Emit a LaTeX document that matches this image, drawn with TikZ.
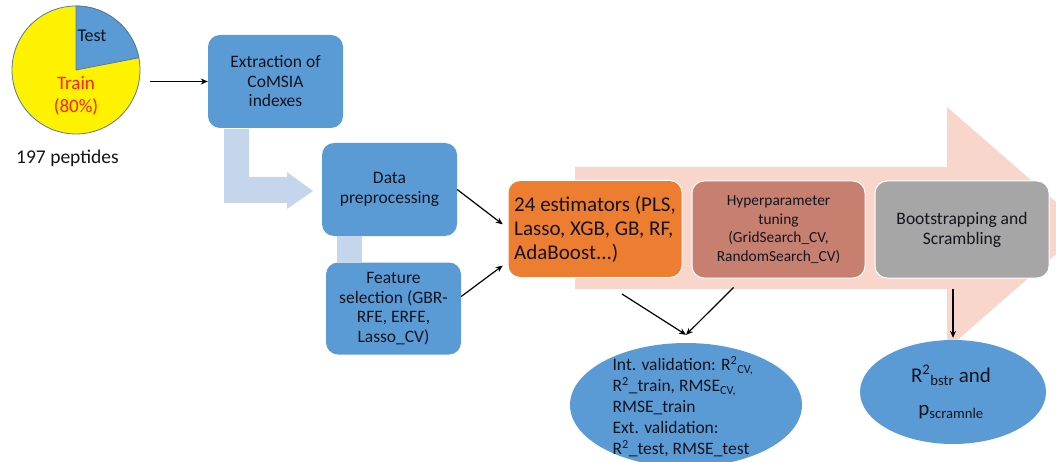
\documentclass[tikz,border=0pt]{standalone}
\usepackage{fontspec}
\setmainfont{Carlito}
\usetikzlibrary{arrows.meta,shapes.geometric}
\definecolor{boxblue}{RGB}{91,155,213}
\definecolor{lightblue}{RGB}{197,213,236}
\definecolor{bigpink}{RGB}{249,214,203}
\definecolor{estorange}{RGB}{237,125,49}
\definecolor{hyperbrown}{RGB}{199,128,112}
\definecolor{bootgray}{RGB}{166,166,166}
\definecolor{pieedge}{RGB}{84,122,160}
\definecolor{trainred}{RGB}{255,32,32}
\definecolor{textdark}{RGB}{20,20,30}
\begin{document}
\begin{tikzpicture}[x=1pt,y=-1pt,
  bluebox/.style={rectangle, rounded corners=12pt, fill=boxblue, minimum width=135pt, minimum height=93pt, align=center, inner sep=0pt, text=textdark, font=\fontsize{17.5}{19.5}\selectfont},
  procbox/.style={rectangle, rounded corners=12pt, draw=white, line width=1pt, minimum width=174pt, minimum height=97pt, align=center, inner sep=0pt, text=textdark},
  oval/.style={ellipse, fill=boxblue, inner sep=0pt},
  conn/.style={-{Stealth[length=7pt,width=6pt]}, line width=1.2pt},
  lbl/.style={inner sep=0pt, align=center}
]
\useasboundingbox (0,0) rectangle (1056,462);
\clip (0,0) rectangle (1056,462);

% big background arrow
\fill[bigpink] (575,167) -- (947,167) -- (947,107) -- (1086,228) -- (947,349) -- (947,289) -- (575,289) -- cycle;

% pie chart
\node[circle, fill=yellow, draw=pieedge, line width=0.8pt, minimum size=128pt, inner sep=0pt] (pie) at (76,70) {};
\filldraw[fill=boxblue, draw=pieedge, line width=0.8pt] (pie.center) -- ++(-11:64) arc[start angle=-11, end angle=-90, radius=64] -- cycle;
\node[lbl, text=textdark, font=\fontsize{18}{20}\selectfont] (test) at (92,36) {Test};
\node[lbl, text=trainred, font=\fontsize{19}{22.5}\selectfont] (train) at (76,96) {Train\\(80\%)};
\node[lbl, text=textdark, font=\fontsize{19.5}{22}\selectfont] (pep) at (67.5,158) {197 peptides};

% blue boxes
\node[bluebox] (extract) at (275.5,81.5) {Extraction of\\CoMSIA\\indexes};
\node[bluebox] (prep) at (389.5,189.5) {Data\\preprocessing};
\node[bluebox, minimum height=92pt] (feat) at (393.5,308.5) {Feature\\selection (GBR-\\RFE, ERFE,\\Lasso\_CV)};

% light blue block connectors
\fill[lightblue] (224,129) -- (249,129) -- (249,177) -- (287,177) -- (287,172) -- (313,191) -- (287,209) -- (287,203) -- (224,203) -- cycle;
\fill[lightblue] (337,236) rectangle (362,262);

% process boxes
\node[procbox, fill=estorange, align=left, font=\fontsize{21}{24}\selectfont] (orange) at (595,229) {24 estimators (PLS,\\Lasso, XGB, GB, RF,\\AdaBoost...)};
\node[procbox, fill=hyperbrown, minimum width=173pt, font=\fontsize{15.4}{18.5}\selectfont] (hyper) at (778.5,229.5) {Hyperparameter\\tuning\\(GridSearch\_CV,\\RandomSearch\_CV)};
\node[procbox, fill=bootgray, font=\fontsize{17.5}{20}\selectfont] (boot) at (962,229.5) {Bootstrapping and\\Scrambling};

% result ellipses
\node[oval, minimum width=232pt, minimum height=124pt] (e1) at (686,405) {};
\node[lbl, align=left, text=textdark, font=\fontsize{17.5}{21}\selectfont] (e1text) at (683,407) {Int. validation: R\textsuperscript{2}\textsubscript{CV,}\\R\textsuperscript{2}\_train, RMSE\textsubscript{CV,}\\RMSE\_train\\Ext. validation:\\R\textsuperscript{2}\_test, RMSE\_test};
\node[oval, minimum width=186pt, minimum height=104pt] (e2) at (953,392) {};
\node[lbl, text=textdark, font=\fontsize{21}{33}\selectfont] (e2text) at (951,392) {R\textsuperscript{2}\textsubscript{bstr} and\\p\textsubscript{scramnle}};

% connectors
\coordinate (m1) at ([yshift=8pt]e1.north);
\draw[conn, shorten <=10pt] (pie.east |- extract.west) -- (extract.west);
\draw[conn, shorten >=6pt] (prep.east) -- ([yshift=1pt]orange.west);
\draw[conn, shorten >=6pt] ([yshift=12pt]feat.east) -- ([yshift=-33pt]orange.west);
\draw[conn] ([xshift=27pt,yshift=-16pt]orange.south) -- (m1);
\draw[conn] ([xshift=-45pt,yshift=-9pt]hyper.south) -- (m1);
\draw[conn, shorten <=10pt, shorten >=2pt] (e2.north |- boot.south) -- (e2.north);
\end{tikzpicture}
\end{document}
